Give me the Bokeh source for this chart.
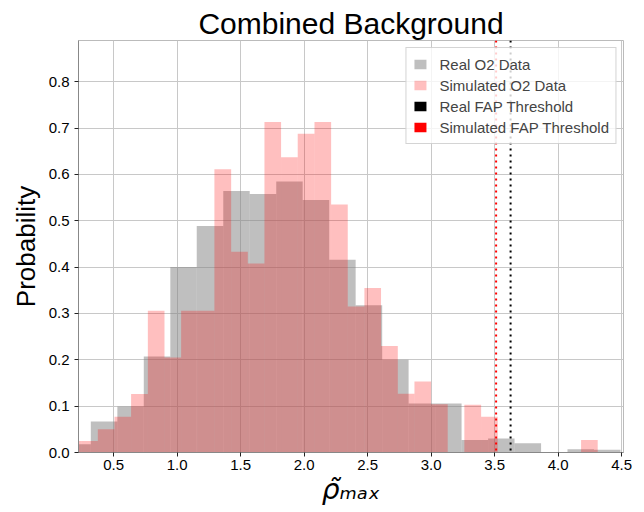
from bokeh.plotting import figure
from bokeh.models import (Range1d, FixedTicker, NumeralTickFormatter, Span, Legend,
                          LegendItem, ColumnDataSource)
from bokeh.embed import file_html
from bokeh.resources import INLINE

# ---------------- data ----------------
title_text = "Combined Background"
y_label = "Probability"
x_label = "\u03c1\u0303\u2098\u2090\u2093"   # rho-tilde with subscript "max"

real_label = "Real O2 Data"
sim_label = "Simulated O2 Data"
real_thr_label = "Real FAP Threshold"
sim_thr_label = "Simulated FAP Threshold"

real_edges = [0.113, 0.321, 0.530, 0.738, 0.947, 1.155, 1.364, 1.572, 1.781, 1.989, 2.198,
              2.406, 2.615, 2.823, 3.032, 3.240, 3.449, 3.657, 3.866, 4.074, 4.283, 4.491]
real_prob = [0.018, 0.067, 0.099, 0.207, 0.400, 0.489, 0.564, 0.558, 0.585, 0.545, 0.416,
             0.318, 0.200, 0.106, 0.106, 0.027, 0.030, 0.020, 0.000, 0.007, 0.006]

sim_edges = [0.114, 0.245, 0.376, 0.507, 0.638, 0.770, 0.901, 1.032, 1.163, 1.294, 1.426,
             1.557, 1.688, 1.819, 1.950, 2.082, 2.213, 2.344, 2.475, 2.606, 2.738, 2.869,
             3.000, 3.131, 3.262, 3.394, 3.525, 3.656, 3.787, 3.918, 4.050, 4.181, 4.312]
sim_prob = [0.025, 0.025, 0.050, 0.077, 0.126, 0.306, 0.205, 0.306, 0.306, 0.611, 0.433,
            0.408, 0.713, 0.637, 0.688, 0.713, 0.535, 0.315, 0.355, 0.230, 0.127, 0.153,
            0.104, 0.000, 0.103, 0.077, 0.000, 0.000, 0.000, 0.000, 0.000, 0.027]

real_threshold = 3.626
sim_threshold = 3.512

x_ticks = [0.5, 1.0, 1.5, 2.0, 2.5, 3.0, 3.5, 4.0, 4.5]
y_ticks = [0.0, 0.1, 0.2, 0.3, 0.4, 0.5, 0.6, 0.7, 0.8]
x_lim = (0.224, 4.515)
y_lim = (0.0, 0.889)

# ---------------- figure ----------------
FONT = "Liberation Sans"

p = figure(frame_width=545, frame_height=412, output_backend="svg", toolbar_location=None,
           x_range=Range1d(*x_lim), y_range=Range1d(*y_lim),
           min_border_left=78, min_border_right=20, min_border_top=40, min_border_bottom=59,
           background_fill_color="white", border_fill_color="white")
p.outline_line_color = "#bbbbbb"

p.title.text = title_text
p.title.align = "center"
p.title.text_font = FONT
p.title.text_font_size = "30px"
p.title.text_font_style = "normal"
p.title.text_color = "black"
p.title.standoff = 2

real_src = ColumnDataSource(dict(left=real_edges[:-1], right=real_edges[1:], top=real_prob))
sim_src = ColumnDataSource(dict(left=sim_edges[:-1], right=sim_edges[1:], top=sim_prob))

r_real = p.quad(left="left", right="right", top="top", bottom=0, source=real_src,
                fill_color="gray", fill_alpha=0.5, line_color=None)
r_sim = p.quad(left="left", right="right", top="top", bottom=0, source=sim_src,
               fill_color="red", fill_alpha=0.25, line_color=None)

# zero-area stand-ins that only supply the legend swatches of the thresholds
r_real_thr = p.quad(left=[real_threshold], right=[real_threshold], top=[0], bottom=[0],
                    fill_color="black", line_color=None)
r_sim_thr = p.quad(left=[sim_threshold], right=[sim_threshold], top=[0], bottom=[0],
                   fill_color="red", line_color=None)

p.add_layout(Span(location=sim_threshold, dimension="height", line_color="red",
                  line_width=2, line_dash="2 4"))
p.add_layout(Span(location=real_threshold, dimension="height", line_color="black",
                  line_width=2, line_dash="2 4"))

# axes
for ax, ticks in ((p.xaxis, x_ticks), (p.yaxis, y_ticks)):
    ax.ticker = FixedTicker(ticks=ticks)
    ax.formatter = NumeralTickFormatter(format="0.0")
    ax.major_label_text_font = FONT
    ax.major_label_text_font_size = "15px"
    ax.major_label_text_color = "black"
    ax.major_tick_out = 4
    ax.major_tick_in = 0
    ax.major_tick_line_color = "#222222"
    ax.minor_tick_line_color = None
    ax.axis_line_color = "#888888"

p.xaxis.major_label_standoff = 3
p.yaxis.major_label_standoff = 5

p.yaxis.axis_label = y_label
p.yaxis.axis_label_text_font = FONT
p.yaxis.axis_label_text_font_size = "26px"
p.yaxis.axis_label_text_font_style = "normal"
p.yaxis.axis_label_text_color = "black"
p.yaxis.axis_label_standoff = 5

p.xaxis.axis_label = x_label
p.xaxis.axis_label_text_font = "DejaVu Sans"
p.xaxis.axis_label_text_font_size = "28px"
p.xaxis.axis_label_text_font_style = "italic"
p.xaxis.axis_label_text_color = "black"
p.xaxis.axis_label_standoff = 0

p.grid.grid_line_color = "#c8c8c8"
p.grid.grid_line_width = 1

# legend
legend = Legend(items=[LegendItem(label=real_label, renderers=[r_real]),
                       LegendItem(label=sim_label, renderers=[r_sim]),
                       LegendItem(label=real_thr_label, renderers=[r_real_thr]),
                       LegendItem(label=sim_thr_label, renderers=[r_sim_thr])],
                location="top_right", margin=7, padding=6, spacing=1,
                label_height=20, glyph_width=15, glyph_height=12, label_standoff=12,
                label_text_font=FONT, label_text_font_size="15px",
                border_line_color="#aaaaaa", border_line_width=1,
                background_fill_color="white", background_fill_alpha=0.8)
p.add_layout(legend)

open("out.html", "w").write(file_html(p, INLINE))
